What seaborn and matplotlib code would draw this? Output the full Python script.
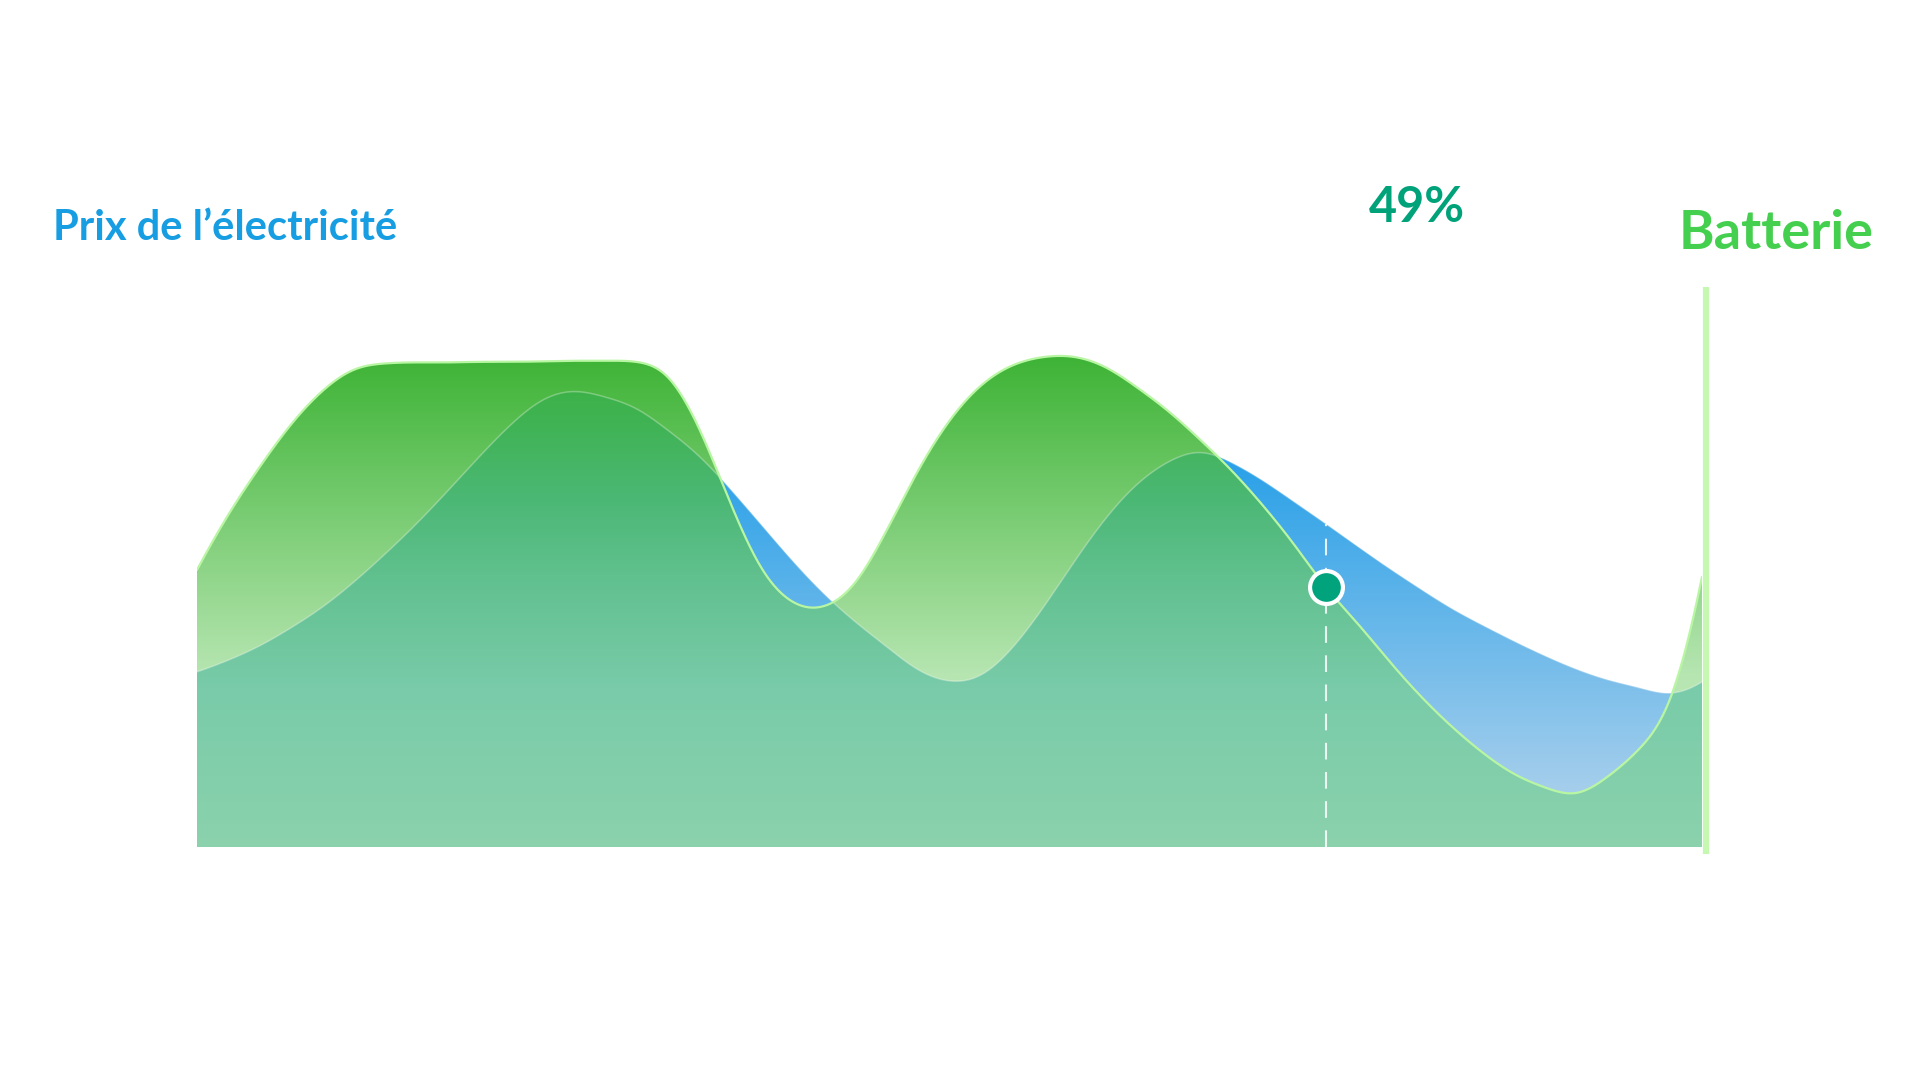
import numpy as np
import pandas as pd
import matplotlib
matplotlib.use("Agg")
import matplotlib.pyplot as plt
import matplotlib.transforms as mtransforms
import seaborn as sns
from matplotlib.colors import to_rgb

# ---------------- data ----------------
hours = np.arange(0, 24.5, 0.5)          # half-hour steps over one day

battery = [52.2, 62.6, 71.6, 79.6, 85.9, 89.9, 91.1, 91.3, 91.3, 91.4,
           91.4, 91.5, 91.6, 91.6, 91.4, 88.6, 79.0, 65.0, 52.6, 46.2,
           45.4, 49.9, 59.7, 70.9, 80.3, 86.9, 90.7, 92.3, 92.3, 90.3,
           86.5, 82.0, 76.7, 70.9, 64.3, 56.9, 49.0, 42.2, 35.2, 28.6,
           22.8, 17.8, 13.8, 11.2, 10.2, 13.3, 18.5, 28.2, 50.9]

price = [33.0, 35.2, 37.9, 41.3, 45.2, 49.9, 55.2, 60.9, 67.1, 73.5,
         79.5, 84.1, 85.8, 84.8, 82.6, 78.6, 73.7, 67.5, 60.7, 53.9,
         47.7, 42.4, 37.7, 33.4, 31.3, 32.4, 37.5, 45.2, 53.9, 62.0,
         68.4, 72.6, 74.3, 72.4, 69.0, 65.0, 60.9, 56.7, 52.6, 48.7,
         45.0, 41.8, 38.8, 36.0, 33.5, 31.5, 30.0, 29.0, 31.1]

marker_hour = 18.0
label_price = "Prix de l’électricité"
label_battery = "Batterie"

# ---------------- styling ----------------
W, H = 1920, 1080
YMAX = 105.5
C_PRICE_TXT = "#169DE2"
C_BATT_TXT = "#45CF4F"
C_PCT_TXT = "#00A27A"
C_MARKER = "#00A37C"

batt_stops = [(0, "#C6EDC2"), (31.5, "#B8E6B3"), (92.7, "#3DB335"), (YMAX, "#39AF2F")]
price_stops = [(0, "#AED3EE"), (10.7, "#A5CEEC"), (73.9, "#28A0E8"), (YMAX, "#1796E6")]
both_stops = [(0, "#8BD2AD"), (30, "#79CBA9"), (50, "#62C190"), (65, "#4CB876"),
              (80, "#40B354"), (92, "#3AB03C"), (YMAX, "#38AE36")]

sns.set_theme(style="white")
plt.rcParams["font.family"] = ["Lato", "DejaVu Sans"]

df = pd.DataFrame({"heure": hours, "batterie": battery, "prix": price})


def spline_curve(xk, yk, n=2400):
    """Smooth C2 cubic-spline rendering through the series points."""
    xk = np.asarray(xk, float)
    yk = np.asarray(yk, float)
    N = len(xk)
    h = np.diff(xk)
    d = np.diff(yk) / h
    A = np.zeros((N, N))
    r = np.zeros(N)
    A[0, 0] = A[-1, -1] = 1.0
    r[0] = (-3 * yk[0] + 4 * yk[1] - yk[2]) / (xk[2] - xk[0])
    r[-1] = (3 * yk[-1] - 4 * yk[-2] + yk[-3]) / (xk[-1] - xk[-3])
    for i in range(1, N - 1):
        A[i, i - 1] = h[i]
        A[i, i] = 2 * (h[i - 1] + h[i])
        A[i, i + 1] = h[i - 1]
        r[i] = 3 * (h[i] * d[i - 1] + h[i - 1] * d[i])
    m = np.linalg.solve(A, r)
    xs = np.linspace(xk[0], xk[-1], n)
    i = np.clip(np.searchsorted(xk, xs) - 1, 0, N - 2)
    t = (xs - xk[i]) / h[i]
    h00 = 2 * t**3 - 3 * t**2 + 1
    h10 = t**3 - 2 * t**2 + t
    h01 = -2 * t**3 + 3 * t**2
    h11 = t**3 - t**2
    ys = h00 * yk[i] + h10 * h[i] * m[i] + h01 * yk[i + 1] + h11 * h[i] * m[i + 1]
    return xs, ys


xs, bs = spline_curve(df["heure"], df["batterie"])
_, ps = spline_curve(df["heure"], df["prix"])
smooth = pd.DataFrame({"heure": xs, "batterie": bs, "prix": ps,
                       "commun": np.minimum(bs, ps)})

fig = plt.figure(figsize=(W / 100, H / 100), dpi=100)
fig.patch.set_facecolor("white")
ax = fig.add_axes([197 / W, 1 - 847 / H, (1702 - 197) / W, (847 - 287) / H])


def grad_image(stops):
    v = np.linspace(0, YMAX, 800)
    pos = [s for s, _ in stops]
    cols = np.array([to_rgb(c) for _, c in stops])
    rgb = np.stack([np.interp(v, pos, cols[:, i]) for i in range(3)], axis=-1)
    return rgb[:, None, :]


def grad_fill(xx, yy, stops, z):
    poly = ax.fill_between(xx, 0, yy, facecolor="none", edgecolor="none")
    im = ax.imshow(grad_image(stops), extent=[0, 24, 0, YMAX], origin="lower",
                   aspect="auto", interpolation="bilinear", zorder=z)
    im.set_clip_path(poly.get_paths()[0], transform=ax.transData)


grad_fill(smooth["heure"], smooth["prix"], price_stops, 1)
grad_fill(smooth["heure"], smooth["batterie"], batt_stops, 2)
grad_fill(smooth["heure"], smooth["commun"], both_stops, 3)

# outlines
sns.lineplot(data=smooth, x="heure", y="prix", color="white", alpha=0.3,
             linewidth=1.1, ax=ax, zorder=5)
sns.lineplot(data=smooth, x="heure", y="batterie", color="#B9F6A3",
             linewidth=1.6, ax=ax, zorder=6)

# current time cursor
idx = int(np.argmin(np.abs(df["heure"].to_numpy() - marker_hour)))
t_now = df["heure"].iloc[idx]
b_now = df["batterie"].iloc[idx]
p_now = df["prix"].iloc[idx]
ax.vlines(t_now, 0, p_now, colors="white", linestyles=(0, (8, 6)),
          linewidth=1.5, alpha=0.85, zorder=7)
sns.scatterplot(x=[t_now], y=[b_now], s=560, color=C_MARKER,
                edgecolor="white", linewidth=3.0, ax=ax, zorder=9, legend=False)

# battery gauge line at the right end
shift = mtransforms.offset_copy(ax.transData, fig=fig, x=4, y=0, units="dots")
ax.plot([24, 24], [-1.3, YMAX], color="#C6F8B2", linewidth=4.5,
        solid_capstyle="butt", clip_on=False, zorder=4, transform=shift)

ax.set_xlim(0, 24)
ax.set_ylim(0, YMAX)
ax.axis("off")

# texts
fig.text(53 / W, 1 - 240 / H, label_price, color=C_PRICE_TXT, fontsize=30,
         fontweight="bold", ha="left", va="baseline")
fig.text(1369 / W, 1 - 222 / H, f"{round(b_now)}%", color=C_PCT_TXT,
         fontsize=35, fontweight="bold", ha="left", va="baseline")
fig.text(1679 / W, 1 - 249 / H, label_battery, color=C_BATT_TXT, fontsize=39,
         fontweight="bold", ha="left", va="baseline")

fig.savefig("out.png", dpi=100, facecolor="white")
